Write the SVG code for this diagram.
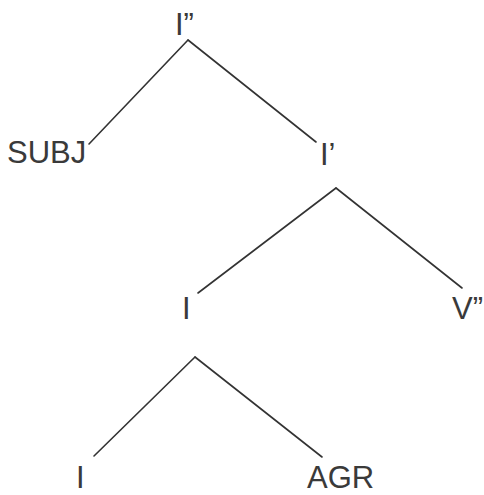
<svg xmlns="http://www.w3.org/2000/svg" width="484" height="495" viewBox="0 0 484 495">
<style>
.lbl{font-family:"Liberation Sans",Arial,sans-serif;font-size:31px;fill:#3a3a3a}
.edge{stroke:#333;stroke-width:1.6;fill:none;stroke-linecap:round}
</style>
<rect width="484" height="495" fill="#fff"/>
<g id="connectors">
<line class="edge" x1="188" y1="40" x2="89" y2="144"/>
<line class="edge" x1="188" y1="40" x2="316" y2="142"/>
<line class="edge" x1="336" y1="188" x2="198" y2="293"/>
<line class="edge" x1="336" y1="188" x2="462" y2="288"/>
<line class="edge" x1="195" y1="357" x2="94" y2="456"/>
<line class="edge" x1="195" y1="357" x2="322" y2="457"/>
</g>
<g id="n-Ipp"><text class="lbl" x="175" y="35">I”</text></g>
<g id="n-SUBJ"><text class="lbl" x="7" y="163">SUBJ</text></g>
<g id="n-Ip"><text class="lbl" x="320" y="165">I’</text></g>
<g id="n-I1"><text class="lbl" x="182" y="319">I</text></g>
<g id="n-Vpp"><text class="lbl" x="452" y="319">V”</text></g>
<g id="n-I2"><text class="lbl" x="76" y="488">I</text></g>
<g id="n-AGR"><text class="lbl" x="307" y="488">AGR</text></g>
</svg>
